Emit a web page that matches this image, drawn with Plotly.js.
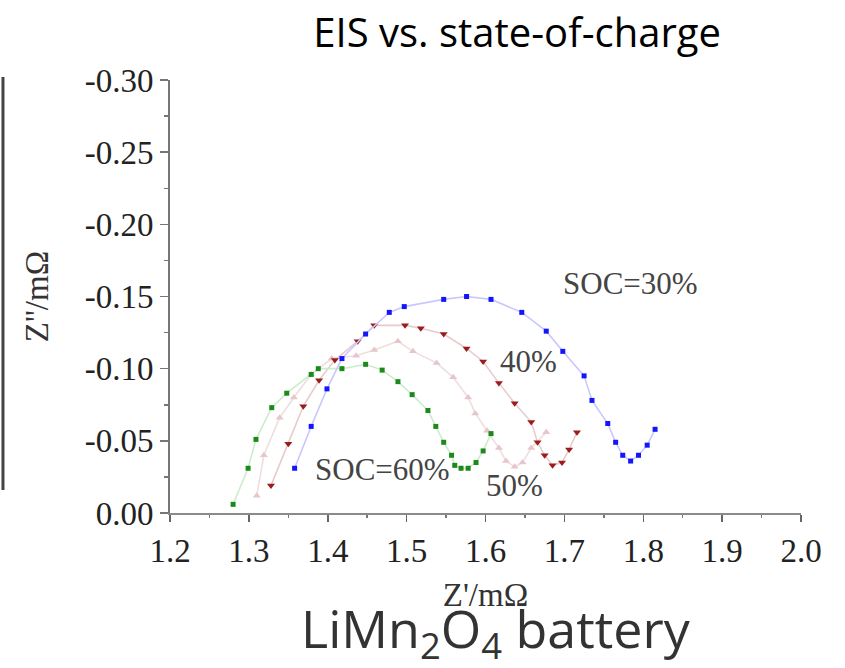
<!DOCTYPE html>
<html>
<head>
<meta charset="utf-8">
<script src="https://cdn.plot.ly/plotly-3.0.1.min.js"></script>
<style>html,body{margin:0;padding:0;background:#fff;}#chart{width:845px;height:668px;}</style>
</head>
<body>
<div id="chart"></div>
<script>
// SOC = 30% (blue)
const soc30_x = [1.358,1.379,1.399,1.418,1.448,1.478,1.497,1.547,1.576,1.607,1.646,1.677,1.698,1.725,1.735,1.755,1.765,1.774,1.784,1.794,1.805,1.815];
const soc30_y = [-0.031,-0.060,-0.086,-0.107,-0.124,-0.139,-0.143,-0.148,-0.150,-0.148,-0.139,-0.126,-0.112,-0.095,-0.078,-0.062,-0.049,-0.040,-0.036,-0.040,-0.047,-0.058];
// SOC = 40% (dark red)
const soc40_x = [1.328,1.350,1.369,1.389,1.409,1.438,1.459,1.498,1.518,1.547,1.576,1.597,1.617,1.637,1.658,1.666,1.675,1.685,1.697,1.706,1.716];
const soc40_y = [-0.019,-0.048,-0.074,-0.092,-0.106,-0.119,-0.130,-0.130,-0.128,-0.124,-0.114,-0.105,-0.090,-0.076,-0.063,-0.049,-0.040,-0.033,-0.035,-0.044,-0.056];
// SOC = 50% (light pink)
const soc50_x = [1.310,1.319,1.339,1.357,1.379,1.405,1.436,1.459,1.489,1.508,1.538,1.559,1.578,1.587,1.602,1.617,1.626,1.637,1.647,1.658,1.677];
const soc50_y = [-0.012,-0.040,-0.066,-0.080,-0.096,-0.107,-0.109,-0.113,-0.119,-0.112,-0.104,-0.094,-0.080,-0.069,-0.057,-0.045,-0.036,-0.032,-0.035,-0.045,-0.056];
// SOC = 60% (green)
const soc60_x = [1.280,1.299,1.309,1.329,1.348,1.379,1.388,1.418,1.448,1.469,1.489,1.507,1.527,1.537,1.547,1.557,1.561,1.569,1.578,1.588,1.597,1.607];
const soc60_y = [-0.006,-0.031,-0.051,-0.073,-0.083,-0.096,-0.100,-0.100,-0.103,-0.099,-0.091,-0.082,-0.071,-0.060,-0.049,-0.040,-0.033,-0.031,-0.031,-0.035,-0.043,-0.055];

const yTickVals = [0, -0.05, -0.10, -0.15, -0.20, -0.25, -0.30];
const yTickText = ["0.00", "-0.05", "-0.10", "-0.15", "-0.20", "-0.25", "-0.30"];

const labels = [
  {text: "SOC=30%", x: 1.784, y: -0.159},
  {text: "40%", x: 1.654, y: -0.105},
  {text: "SOC=60%", x: 1.469, y: -0.030},
  {text: "50%", x: 1.637, y: -0.019}
];

function series(x, y, lineColor, markerColor, symbol, size) {
  return {
    x: x, y: y, type: 'scatter', mode: 'lines+markers',
    line: {color: lineColor, width: 1.6},
    marker: {color: markerColor, symbol: symbol, size: size, line: {width: 0}},
    hoverinfo: 'x+y', showlegend: false
  };
}

const traces = [
  series(soc50_x, soc50_y, '#f0dede', '#e6c6cb', 'triangle-up', 7),
  series(soc40_x, soc40_y, '#e8cccc', '#9a1c1c', 'triangle-down', 7),
  series(soc60_x, soc60_y, '#cdeccd', '#1b8a1b', 'square', 5),
  series(soc30_x, soc30_y, '#c8c8ff', '#1414ff', 'square', 5)
];

const serif = "Liberation Serif, Times New Roman, serif";
const sans = "Open Sans, Noto Sans, sans-serif";

const layout = {
  width: 845, height: 668,
  margin: {l: 170, r: 44, t: 80, b: 155},
  paper_bgcolor: '#ffffff', plot_bgcolor: '#ffffff',
  title: {
    text: 'EIS vs. state-of-charge',
    x: 0.612, xref: 'container', xanchor: 'center',
    y: 0.950, yref: 'container', yanchor: 'middle',
    font: {family: sans, size: 40, color: '#000'}
  },
  xaxis: {
    range: [1.2, 2.0], tickmode: 'linear', tick0: 1.2, dtick: 0.1,
    tickformat: '.1f',
    showgrid: false, zeroline: false,
    showline: true, linecolor: '#8a8a8a', linewidth: 2,
    ticks: 'outside', ticklen: 7, tickwidth: 1.5, tickcolor: '#666',
    minor: {dtick: 0.05, tick0: 1.2, ticks: 'outside', ticklen: 3, tickwidth: 1.5, tickcolor: '#777'},
    tickfont: {family: serif, size: 33, color: '#222'},
    title: {text: "Z'/mΩ", standoff: 15, font: {family: serif, size: 33, color: '#333'}}
  },
  yaxis: {
    range: [0, -0.30], tickmode: 'array', tickvals: yTickVals, ticktext: yTickText,
    showgrid: false, zeroline: false,
    showline: true, linecolor: '#777', linewidth: 2,
    ticks: 'outside', ticklen: 8, tickwidth: 1.5, tickcolor: '#777',
    minor: {tickmode: 'linear', dtick: 0.025, tick0: 0, ticks: 'outside', ticklen: 4, tickwidth: 1.5, tickcolor: '#777'},
    tickfont: {family: serif, size: 33, color: '#222'},
    title: {text: "Z''/mΩ", standoff: 26, font: {family: serif, size: 33, color: '#333'}}
  },
  annotations: labels.map(l => ({
    text: l.text, x: l.x, y: l.y, xref: 'x', yref: 'y',
    showarrow: false, xanchor: 'center', yanchor: 'middle',
    font: {family: serif, size: 31, color: '#444'}
  })).concat([{
    text: 'LiMn<sub>2</sub>O<sub>4</sub> battery',
    xref: 'paper', yref: 'paper', x: 0.517, y: -0.178,
    xanchor: 'center', yanchor: 'top', showarrow: false,
    font: {family: sans, size: 52, color: '#333'}
  }]),
  shapes: [{
    type: 'line', xref: 'paper', yref: 'paper',
    x0: -0.2647, x1: -0.2647, y0: 0.053, y1: 1.007,
    line: {color: '#444', width: 3}
  }]
};

Plotly.newPlot('chart', traces, layout, {displayModeBar: false, staticPlot: true});
</script>
</body>
</html>
